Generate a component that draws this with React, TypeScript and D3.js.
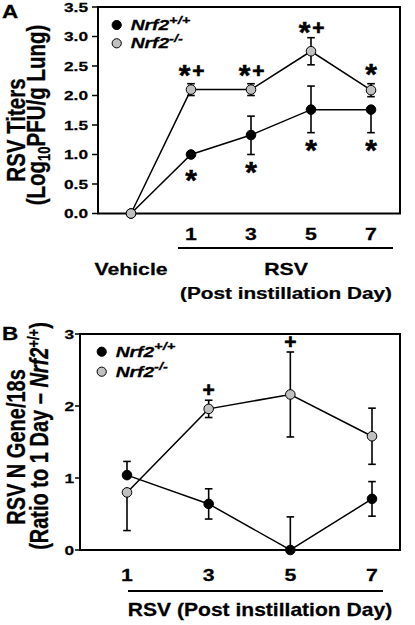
import React from "react";
import * as d3 from "d3";

// ---------- Data ----------
const A_DAYS = ["Vehicle", "1", "3", "5", "7"];
const A_WT = [0, 1.0, 1.33, 1.76, 1.76];
const A_WT_UP = [0, 0, 0.32, 0.4, 0];
const A_WT_DN = [0, 0, 0.33, 0.39, 0.39];
const A_KO = [0, 2.1, 2.1, 2.75, 2.09];
const A_KO_ERR = [0, 0.1, 0.1, 0.23, 0.11];
const A_TICKS = [0, 0.5, 1.0, 1.5, 2.0, 2.5, 3.0, 3.5];
const A_ABOVE = ["", "*+", "*+", "*+", "*"];
const A_ABOVE_LEVEL = [0, 2.46, 2.46, 3.18, 2.47];
const A_BELOW = ["", "*", "*", "*", "*"];
const A_BELOW_LEVEL = [0, 0.68, 0.82, 1.19, 1.19];

const B_DAYS = ["1", "3", "5", "7"];
const B_WT = [1.04, 0.64, 0.0, 0.71];
const B_WT_UP = [0.19, 0.21, 0.46, 0.24];
const B_WT_DN = [0, 0.21, 0, 0.24];
const B_KO = [0.8, 1.96, 2.16, 1.58];
const B_KO_UP = [0, 0.12, 0.59, 0.39];
const B_KO_DN = [0.53, 0.12, 0.59, 0.39];
const B_TICKS = [0, 1, 2, 3];
const B_ABOVE = ["", "+", "+", ""];
const B_ABOVE_LEVEL = [0, 2.26, 2.92, 0];

const FONT = "'Liberation Sans', Arial, Helvetica, sans-serif";
const GRAY = "#c0c0c0";

function Txt({ x, y, size, sx = 1.25, anchor = "middle", rot = 0, italic = false, children }: any) {
  const tf = `translate(${x},${y}) scale(${sx},1)` + (rot ? ` rotate(${rot})` : "");
  return (
    <text transform={tf} fontSize={size} fontFamily={FONT} fontWeight="bold"
      fontStyle={italic ? "italic" : "normal"} textAnchor={anchor} fill="#000"
      stroke="#000" strokeWidth={0.25}>
      {children}
    </text>
  );
}

function Annot({ x, cy, label }: any) {
  if (!label) return null;
  const star = (cx: number, k: string) => (
    <text key={k} x={cx} y={cy + 16.5} fontSize={30} fontFamily={FONT} fontWeight="bold"
      textAnchor="middle" stroke="#000" strokeWidth={0.5}>*</text>
  );
  const plus = (cx: number, k: string) => (
    <text key={k} x={cx} y={cy + 9.5} fontSize={21} fontFamily={FONT} fontWeight="bold"
      textAnchor="middle" stroke="#000" strokeWidth={0.6}>+</text>
  );
  if (label === "*") return star(x, "s");
  if (label === "+") return plus(x, "p");
  return <g>{star(x - 6.5, "s")}{plus(x + 7.5, "p")}</g>;
}

function Legend({ cx, cy1, cy2 }: any) {
  const item = (cy: number, fill: string, sup: string) => (
    <g>
      <circle cx={cx} cy={cy} r={4.6} fill={fill} stroke="#000" strokeWidth={1} />
      <Txt x={cx + 14} y={cy + 5} size={15} sx={1.28} anchor="start" italic>
        Nrf2<tspan dy={-6.5} fontSize={11.5}>{sup}</tspan>
      </Txt>
    </g>
  );
  return <g>{item(cy1, "#000", "+/+")}{item(cy2, GRAY, "-/-")}</g>;
}

function Series({ xs, ys, vals, up, dn, y0 }: any) {
  const pts = vals.map((v: number, i: number) => [xs[i], ys(v)] as [number, number]);
  const line = d3.line();
  return (
    <g>
      <path d={line(pts) || ""} fill="none" stroke="#000" strokeWidth={1.5} />
      {vals.map((v: number, i: number) => {
        const x = xs[i];
        const els: any[] = [];
        if (up[i] > 0) {
          const yt = ys(v + up[i]);
          els.push(<line key="u" x1={x} x2={x} y1={ys(v)} y2={yt} stroke="#000" strokeWidth={1.6} />);
          els.push(<line key="uc" x1={x - 3.8} x2={x + 3.8} y1={yt} y2={yt} stroke="#000" strokeWidth={1.6} />);
        }
        if (dn[i] > 0) {
          const yb = Math.min(ys(v - dn[i]), y0);
          els.push(<line key="d" x1={x} x2={x} y1={ys(v)} y2={yb} stroke="#000" strokeWidth={1.6} />);
          els.push(<line key="dc" x1={x - 3.8} x2={x + 3.8} y1={yb} y2={yb} stroke="#000" strokeWidth={1.6} />);
        }
        return <g key={i}>{els}</g>;
      })}
    </g>
  );
}

function Markers({ xs, ys, vals, fill }: any) {
  return (
    <g>
      {vals.map((v: number, i: number) => (
        <circle key={i} cx={xs[i]} cy={ys(v)} r={4.8} fill={fill} stroke="#000" strokeWidth={1} />
      ))}
    </g>
  );
}

export default function App() {
  // Panel A
  const aL = 98, aR = 400, aT = 7, aB = 213.5;
  const ax = d3.scalePoint().domain(A_DAYS).range([131, 371]);
  const ay = d3.scaleLinear().domain([0, 3.5]).range([aB, aT]);
  const axs = A_DAYS.map((d) => ax(d) as number);

  // Panel B
  const bL = 80, bR = 400, bT = 334, bB = 550;
  const bx = d3.scalePoint().domain(B_DAYS).range([127, 372]);
  const by = d3.scaleLinear().domain([0, 3]).range([bB, bT]);
  const bxs = B_DAYS.map((d) => bx(d) as number);

  return (
    <svg width={415} height={625} style={{ position: "absolute", left: 0, top: 0, background: "#fff" }}>
      <rect x={0} y={0} width={415} height={625} fill="#fff" />
      {/* ===== Panel A ===== */}
      <Txt x={2} y={18} size={18} anchor="start">A</Txt>
      <rect x={aL} y={aT} width={aR - aL} height={aB - aT} fill="none" stroke="#000" strokeWidth={2} />
      {A_TICKS.map((t) => (
        <g key={t}>
          <line x1={aL - 6} x2={aL} y1={ay(t)} y2={ay(t)} stroke="#000" strokeWidth={1.5} />
          <Txt x={aL - 10} y={ay(t) + 4.8} size={13.5} sx={1.28} anchor="end">{d3.format(".1f")(t)}</Txt>
        </g>
      ))}
      <Txt x={25} y={130} size={20.5} sx={1.3} rot={-90}>RSV Titers</Txt>
      <Txt x={45} y={115} size={20.5} sx={1.3} rot={-90}>
        (Log<tspan dy={4} fontSize={13}>10</tspan><tspan dy={-4}>PFU/g Lung)</tspan>
      </Txt>
      <Series xs={axs} ys={ay} vals={A_WT} up={A_WT_UP} dn={A_WT_DN} y0={aB} />
      <Series xs={axs} ys={ay} vals={A_KO} up={A_KO_ERR} dn={A_KO_ERR} y0={aB} />
      <Markers xs={axs} ys={ay} vals={A_WT} fill="#000" />
      <Markers xs={axs} ys={ay} vals={A_KO} fill={GRAY} />
      {A_ABOVE.map((l, i) => <Annot key={"aa" + i} x={axs[i]} cy={ay(A_ABOVE_LEVEL[i])} label={l} />)}
      {A_BELOW.map((l, i) => <Annot key={"ab" + i} x={axs[i]} cy={ay(A_BELOW_LEVEL[i])} label={l} />)}
      <Legend cx={116.7} cy1={25} cy2={43.3} />
      {A_DAYS.slice(1).map((d) => (
        <Txt key={d} x={ax(d)} y={240} size={17}>{d}</Txt>
      ))}
      <line x1={178} x2={393} y1={248} y2={248} stroke="#000" strokeWidth={2} />
      <Txt x={ax("Vehicle")} y={275} size={17}>Vehicle</Txt>
      <Txt x={286} y={275} size={17}>RSV</Txt>
      <Txt x={286} y={299} size={17} sx={1.22}>(Post instillation Day)</Txt>

      {/* ===== Panel B ===== */}
      <Txt x={2} y={340} size={18} anchor="start">B</Txt>
      <rect x={bL} y={bT} width={bR - bL} height={bB - bT} fill="none" stroke="#000" strokeWidth={2} />
      {B_TICKS.map((t) => (
        <g key={t}>
          <line x1={bL - 5} x2={bL} y1={by(t)} y2={by(t)} stroke="#000" strokeWidth={1.5} />
          <Txt x={bL - 6} y={by(t) + 4.8} size={13.5} sx={1.28} anchor="end">{String(t)}</Txt>
        </g>
      ))}
      <Txt x={25} y={447} size={20} sx={1.28} rot={-90}>RSV N Gene/18s</Txt>
      <Txt x={48} y={436} size={20} sx={1.28} rot={-90}>
        (Ratio to 1 Day – <tspan fontStyle="italic">Nrf2</tspan><tspan dy={-7} fontSize={13}>+/+</tspan><tspan dy={7}>)</tspan>
      </Txt>
      <Series xs={bxs} ys={by} vals={B_KO} up={B_KO_UP} dn={B_KO_DN} y0={bB} />
      <Series xs={bxs} ys={by} vals={B_WT} up={B_WT_UP} dn={B_WT_DN} y0={bB} />
      <Markers xs={bxs} ys={by} vals={B_KO} fill={GRAY} />
      <Markers xs={bxs} ys={by} vals={B_WT} fill="#000" />
      {B_ABOVE.map((l, i) => <Annot key={"ba" + i} x={bxs[i]} cy={by(B_ABOVE_LEVEL[i])} label={l} />)}
      <Legend cx={101.7} cy1={351.7} cy2={371.7} />
      {B_DAYS.map((d) => (
        <Txt key={d} x={bx(d)} y={581} size={17}>{d}</Txt>
      ))}
      <line x1={128} x2={383} y1={591} y2={591} stroke="#000" strokeWidth={2} />
      <Txt x={260} y={616} size={18} sx={1.17}>RSV (Post instillation Day)</Txt>
    </svg>
  );
}
